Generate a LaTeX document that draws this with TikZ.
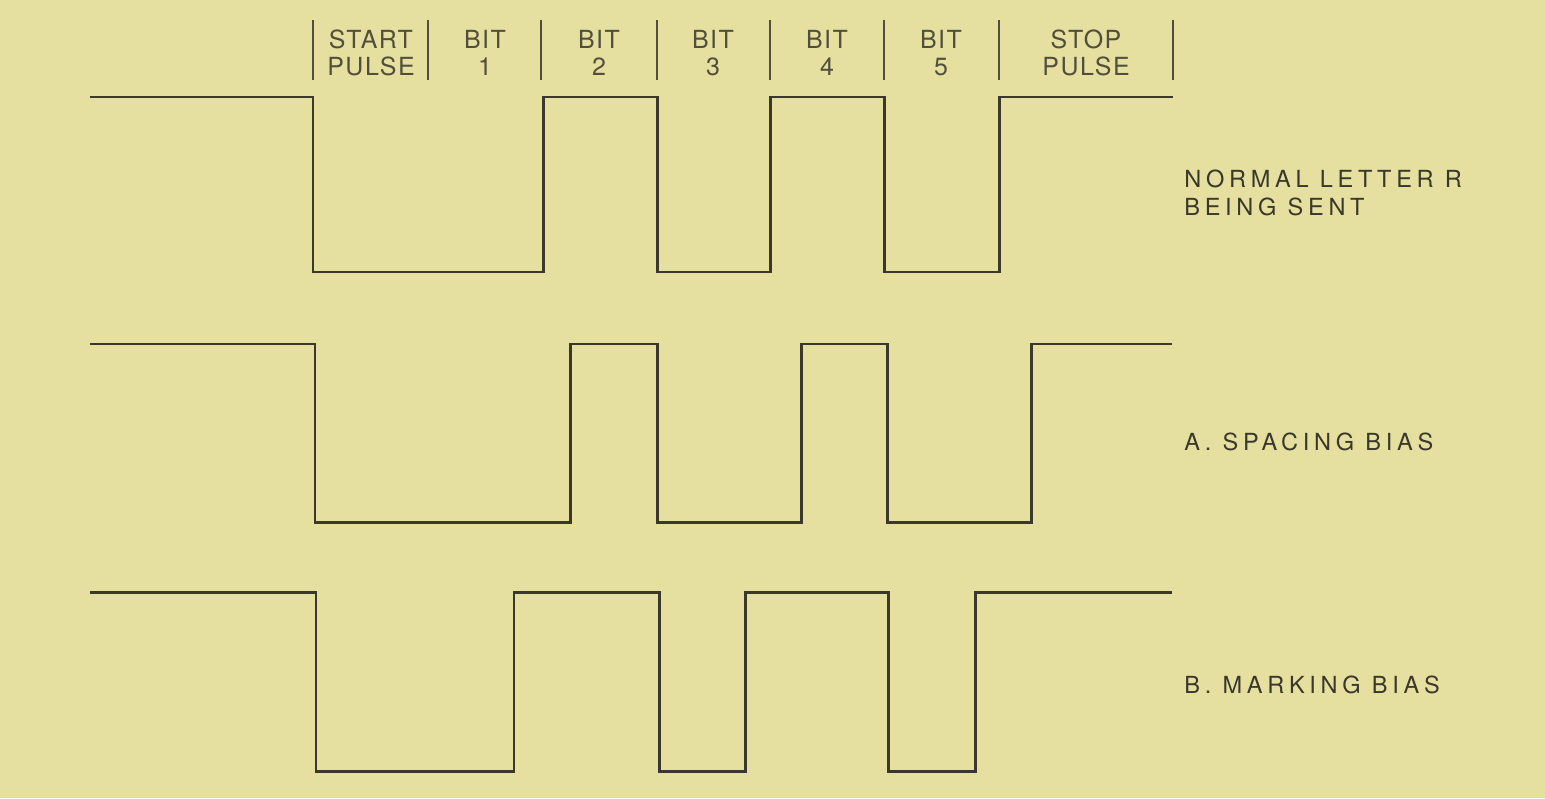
\documentclass[tikz,border=0pt]{standalone}
\usepackage{fontspec}
\usepackage{tikz}
\setmainfont{TeX Gyre Heros}
\newfontfamily\headfont[LetterSpace=6]{TeX Gyre Heros}
\newfontfamily\sidefont[LetterSpace=20]{TeX Gyre Heros}

\definecolor{paper}{RGB}{229,223,160}
\definecolor{ink}{RGB}{58,56,42}
\definecolor{inkgrey}{RGB}{82,78,60}

\begin{document}
\begin{tikzpicture}[x=0.02cm,y=-0.02cm,
    signal/.style={ink,line width=1.7pt,line join=miter},
    divider/.style={inkgrey,line width=1pt},
    headlbl/.style={inner sep=0pt,anchor=base,align=center,text=inkgrey,
        font=\headfont\fontsize{14.2}{15.3}\selectfont},
    sidelbl/.style={inner sep=0pt,anchor=base west,align=left,text=ink,
        font=\sidefont\fontsize{13.4}{15.9}\selectfont}]

        % paper
        \fill[paper] (0,0) rectangle (1545,798);
        \useasboundingbox (0,0) rectangle (1545,798);

        % bit cell dividers
        \foreach \x in {313,428,541,657,770,884,999,1173}
            \draw[divider] (\x,20) -- (\x,80);

        % bit cell headings (base = last line)
        \node[headlbl] (start) at (371,75) {START\\PULSE};
        \node[headlbl] (bitone) at (485,75) {BIT\\1};
        \node[headlbl] (bittwo) at (599,75) {BIT\\2};
        \node[headlbl] (bitthree) at (713,75) {BIT\\3};
        \node[headlbl] (bitfour) at (827,75) {BIT\\4};
        \node[headlbl] (bitfive) at (941,75) {BIT\\5};
        \node[headlbl] (stop) at (1086,75) {STOP\\PULSE};

        % normal letter R
        \draw[signal] (90,97) -| (313,272) -| (543,97) -| (657,272)
            -| (770,97) -| (884,272) -| (999,97) -- (1173,97);
        \node[sidelbl] (normal) at (1184,215) {NORMAL LETTER R\\BEING SENT};

        % spacing bias
        \draw[signal] (90,344) -| (315,522) -| (570,344) -| (657,522)
            -| (801,344) -| (887,522) -| (1031,344) -- (1172,344);
        \node[sidelbl] (spacing) at (1184,450) {A. SPACING BIAS};

        % marking bias
        \draw[signal] (90,592) -| (316,771) -| (514,592) -| (659,771)
            -| (745,592) -| (888,771) -| (975,592) -- (1172,592);
        \node[sidelbl] (marking) at (1184,693) {B. MARKING BIAS};

    \end{tikzpicture}
\end{document}
